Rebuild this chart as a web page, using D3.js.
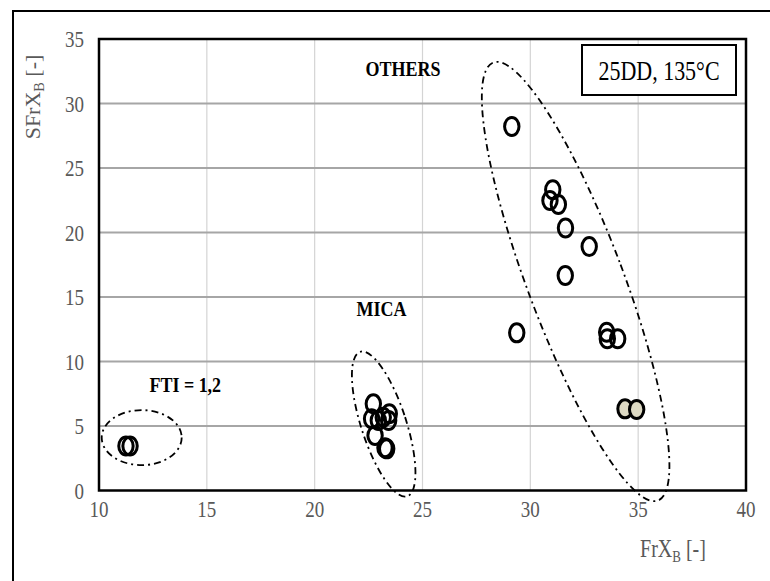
<!DOCTYPE html>
<html>
<head>
<meta charset="utf-8">
<script src="https://cdn.jsdelivr.net/npm/d3@7"></script>
<style>
  html, body { margin: 0; padding: 0; background: #fff; }
  svg { display: block; }
</style>
</head>
<body>
<div id="chart"></div>
<script>
(function () {
  'use strict';

  // ── Data ──────────────────────────────────────────────────────
  const xTicks = [10, 15, 20, 25, 30, 35, 40];
  const yTicks = [0, 5, 10, 15, 20, 25, 30, 35];

  // FrX_B, SFrX_B
  const ftiPoints = [
    [11.25, 3.45], [11.44, 3.45]
  ];
  const micaPoints = [
    [22.72, 6.72], [22.64, 5.56], [22.95, 5.43], [23.18, 5.68],
    [23.46, 5.95], [23.43, 5.43], [22.80, 4.26], [23.34, 3.23], [23.26, 3.31]
  ];
  const otherPoints = [
    [29.14, 28.22], [31.04, 23.31], [30.91, 22.48], [31.30, 22.17],
    [31.63, 20.35], [32.73, 18.91], [31.62, 16.67], [29.37, 12.22],
    [33.54, 12.27], [33.57, 11.76], [34.05, 11.76]
  ];
  const otherFilled = [
    [34.39, 6.33], [34.93, 6.28]
  ];

  // group outlines: label, centre (data units), label anchor (data units)
  const groups = [
    { label: 'FTI = 1,2', cx: 11.98, cy: 4.1,  lx: 14.0,  ly: 7.6  },
    { label: 'MICA',      cx: 23.2,  cy: 5.15, lx: 23.1,  ly: 13.5 },
    { label: 'OTHERS',    cx: 32.1,  cy: 16.2, lx: 24.1,  ly: 32.1 }
  ];
  const condition = '25DD, 135°C';

  // ── Layout ────────────────────────────────────────────────────
  const W = 770, H = 581;
  const plot = { left: 99, right: 746, top: 39, bottom: 490.5 };
  const SERIF = '"Liberation Serif", "Times New Roman", serif';
  const STRETCH = 1.22;   // source picture is a bit taller than wide

  // ellipse shapes in pixels (rx, ry, rotation deg)
  const shapes = [
    { rx: 40, ry: 27.5, rot: 0 },
    { rx: 22.5, ry: 76, rot: -18 },
    { rx: 48, ry: 234, rot: -20.6 }
  ];

  const svg = d3.select('#chart').append('svg')
    .attr('width', W).attr('height', H)
    .attr('viewBox', `0 0 ${W} ${H}`);

  // outer chart frame
  svg.append('rect')
    .attr('x', 13).attr('y', 11)
    .attr('width', W + 20).attr('height', H + 20)
    .attr('fill', 'none').attr('stroke', '#000').attr('stroke-width', 2);

  const x = d3.scaleLinear().domain([10, 40]).range([plot.left, plot.right]);
  const y = d3.scaleLinear().domain([0, 35]).range([plot.bottom, plot.top]);

  // text placed at (px,py) baseline, stretched vertically
  function tallText(px, py, extra) {
    return svg.append('text')
      .attr('transform', `translate(${px},${py}) ${extra || ''} scale(1,${STRETCH})`)
      .attr('font-family', SERIF);
  }

  // ── Grid ──────────────────────────────────────────────────────
  svg.append('g')
    .selectAll('line')
    .data(xTicks.slice(1, -1))
    .join('line')
    .attr('x1', d => x(d)).attr('x2', d => x(d))
    .attr('y1', plot.top).attr('y2', plot.bottom)
    .attr('stroke', '#d4d4d4').attr('stroke-width', 1.2);

  svg.append('g')
    .selectAll('line')
    .data(yTicks.slice(1, -1))
    .join('line')
    .attr('x1', plot.left).attr('x2', plot.right)
    .attr('y1', d => y(d)).attr('y2', d => y(d))
    .attr('stroke', '#a6a6a6').attr('stroke-width', 2);

  // ── Tick labels ───────────────────────────────────────────────
  xTicks.forEach(t => {
    tallText(x(t), 517)
      .attr('text-anchor', 'middle')
      .attr('fill', '#595959')
      .attr('font-size', '19px')
      .text(t);
  });
  yTicks.forEach(t => {
    tallText(84, y(t) + 8)
      .attr('text-anchor', 'end')
      .attr('fill', '#595959')
      .attr('font-size', '19px')
      .text(t);
  });

  // plot frame
  svg.append('rect')
    .attr('x', plot.left).attr('y', plot.top)
    .attr('width', plot.right - plot.left)
    .attr('height', plot.bottom - plot.top)
    .attr('fill', 'none').attr('stroke', '#000').attr('stroke-width', 2.5);

  // ── Axis titles ───────────────────────────────────────────────
  const xt = tallText(673, 557)
    .attr('text-anchor', 'middle')
    .attr('fill', '#595959')
    .attr('font-size', '20px');
  xt.append('tspan').text('FrX');
  xt.append('tspan').attr('font-size', '13px').attr('dy', 4).text('B');
  xt.append('tspan').attr('dy', -4).text(' [-]');

  const yt = svg.append('text')
    .attr('transform', `translate(40,97) rotate(-90) scale(1.1,${STRETCH * 0.9})`)
    .attr('text-anchor', 'middle')
    .attr('fill', '#595959')
    .attr('font-family', SERIF).attr('font-size', '20px');
  yt.append('tspan').text('SFrX');
  yt.append('tspan').attr('font-size', '13px').attr('dy', 4).text('B');
  yt.append('tspan').attr('dy', -4).text(' [-]');

  // ── Group ellipses ────────────────────────────────────────────
  svg.append('g')
    .selectAll('ellipse')
    .data(groups)
    .join('ellipse')
    .attr('transform', (d, i) => `translate(${x(d.cx)},${y(d.cy)}) rotate(${shapes[i].rot})`)
    .attr('rx', (d, i) => shapes[i].rx)
    .attr('ry', (d, i) => shapes[i].ry)
    .attr('fill', 'none')
    .attr('stroke', '#000')
    .attr('stroke-width', 1.8)
    .attr('stroke-dasharray', '7,4,2,4');

  groups.forEach(g => {
    tallText(x(g.lx), y(g.ly))
      .attr('text-anchor', 'middle')
      .attr('font-weight', 'bold')
      .attr('font-size', '18px')
      .attr('fill', '#000')
      .text(g.label);
  });

  // ── Points ────────────────────────────────────────────────────
  const open = ftiPoints.concat(micaPoints, otherPoints);
  svg.append('g')
    .selectAll('ellipse')
    .data(open)
    .join('ellipse')
    .attr('cx', d => x(d[0])).attr('cy', d => y(d[1]))
    .attr('rx', 7.2).attr('ry', 9)
    .attr('fill', 'none')
    .attr('stroke', '#000').attr('stroke-width', 3);

  svg.append('g')
    .selectAll('ellipse')
    .data(otherFilled)
    .join('ellipse')
    .attr('cx', d => x(d[0])).attr('cy', d => y(d[1]))
    .attr('rx', 7.2).attr('ry', 9)
    .attr('fill', '#ddd9c3')
    .attr('stroke', '#000').attr('stroke-width', 3);

  // ── Condition box ─────────────────────────────────────────────
  svg.append('rect')
    .attr('x', 582).attr('y', 45)
    .attr('width', 154).attr('height', 50)
    .attr('fill', '#fff').attr('stroke', '#000').attr('stroke-width', 2);
  tallText(659, 80)
    .attr('text-anchor', 'middle')
    .attr('font-size', '22px')
    .attr('fill', '#000')
    .text(condition);
})();
</script>
</body>
</html>
